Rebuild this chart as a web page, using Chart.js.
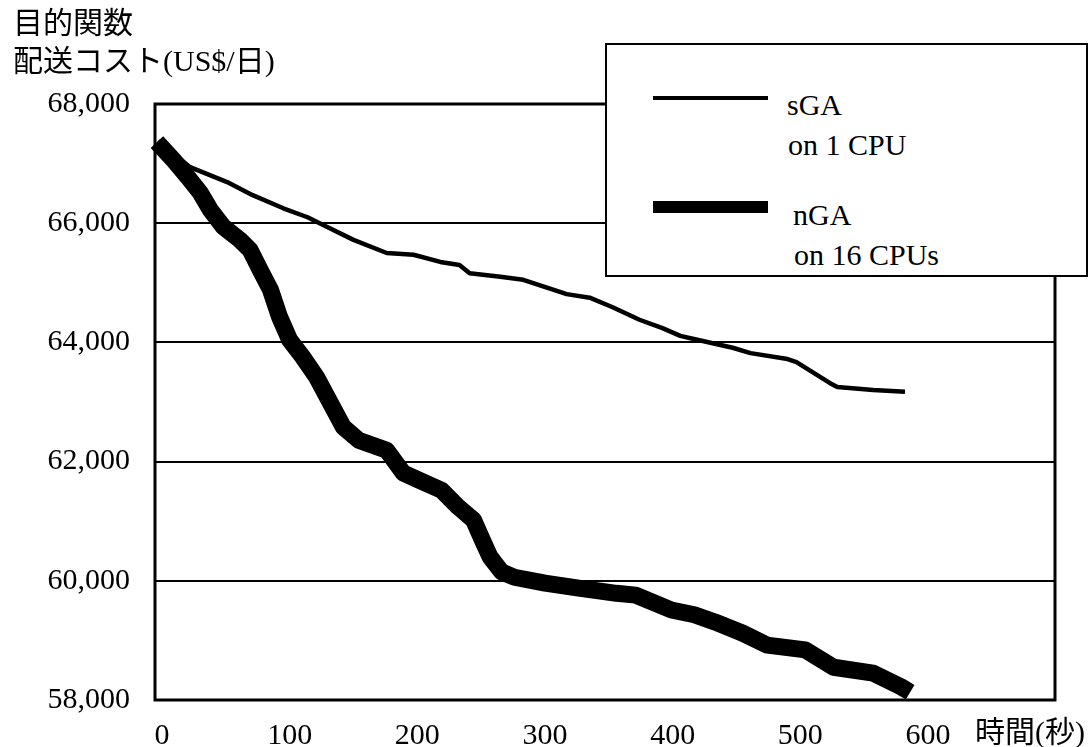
<!DOCTYPE html>
<html>
<head>
<meta charset="utf-8">
<script src="https://cdn.jsdelivr.net/npm/chart.js@4/dist/chart.umd.min.js"></script>
<style>
  html, body { margin:0; padding:0; background:#fff; }
  #wrap { position:relative; width:1090px; height:747px; background:#fff; overflow:hidden; }
  #c { position:absolute; left:0; top:0; }
  .txt { position:absolute; white-space:nowrap; color:#000;
         font-family:"Liberation Serif","Noto Sans CJK JP",serif; font-size:30px; line-height:30px; }
  #legend { position:absolute; left:605px; top:43px; width:483px; height:234px;
            box-sizing:border-box; border:2px solid #000; background:#fff; }
  .swatch { position:absolute; background:#000; }
</style>
</head>
<body>
<div id="wrap">
  <canvas id="c" width="1090" height="747"></canvas>
  <div class="txt" id="yTitle1" style="left:13px;top:8px;">目的関数</div>
  <div class="txt" id="yTitle2" style="left:13px;top:46px;">配送コスト(US$/日)</div>
  <div class="txt" id="xTitle" style="left:975px;top:717px;">時間(秒)</div>
  <div id="legend"></div>
</div>
<script>
// ---- data ----
const sgaTime = [-3, 22, 51, 71, 95, 114, 129, 150, 176, 197, 218, 233, 241, 265, 283, 317, 335, 353, 374, 392, 406, 414, 447, 461, 490, 497, 523, 529, 557, 582];
const sgaCost = [67380, 66940, 66690, 66470, 66250, 66100, 65940, 65720, 65500, 65470, 65350, 65300, 65160, 65100, 65050, 64810, 64750, 64590, 64380, 64240, 64110, 64070, 63910, 63820, 63720, 63670, 63320, 63250, 63200, 63170];

const ngaTime = [-4, 9, 20, 30, 38, 48, 61, 69, 77, 85, 92, 100, 110, 121, 142, 154, 176, 189, 201, 219, 232, 244, 251, 257, 266, 276, 300, 325, 356, 371, 399, 417, 433, 455, 474, 504, 526, 557, 579, 586];
const ngaCost = [67360, 67060, 66780, 66510, 66220, 65940, 65720, 65550, 65210, 64880, 64430, 64040, 63760, 63420, 62580, 62360, 62190, 61810, 61690, 61520, 61240, 61020, 60680, 60400, 60150, 60060, 59960, 59880, 59790, 59760, 59510, 59430, 59310, 59120, 58920, 58840, 58550, 58450, 58220, 58130];

const xTickValues = [0, 100, 200, 300, 400, 500, 600];
const yTickValues = [58000, 60000, 62000, 64000, 66000, 68000];
const seriesNames = ['sGA', 'nGA'];
const seriesSubNames = ['on 1 CPU', 'on 16 CPUs'];

// ---- chart ----
const toPoints = (xs, ys) => xs.map((x, i) => ({ x: x, y: ys[i] }));

const framePlugin = {
  id: 'frame',
  beforeDatasetsDraw(chart) {
    const a = chart.chartArea, ctx = chart.ctx;
    ctx.save();
    ctx.strokeStyle = '#000';
    ctx.lineWidth = 3;
    ctx.strokeRect(a.left, a.top, a.right - a.left, a.bottom - a.top);
    ctx.restore();
  }
};

const tickFont = { family: 'Liberation Serif', size: 30 };

const chart = new Chart(document.getElementById('c'), {
  type: 'line',
  data: {
    datasets: [
      { label: seriesNames[0] + ' ' + seriesSubNames[0], data: toPoints(sgaTime, sgaCost),
        borderColor: '#000', borderWidth: 4.5, pointRadius: 0, tension: 0, clip: false,
        borderJoinStyle: 'round', fill: false },
      { label: seriesNames[1] + ' ' + seriesSubNames[1], data: toPoints(ngaTime, ngaCost),
        borderColor: '#000', borderWidth: 17, pointRadius: 0, tension: 0, clip: false,
        borderJoinStyle: 'round', fill: false }
    ]
  },
  options: {
    responsive: false,
    animation: false,
    layout: { padding: { top: 104, right: 35, left: 0, bottom: 0 } },
    plugins: { legend: { display: false }, tooltip: { enabled: false } },
    scales: {
      x: {
        type: 'linear', min: -5.5, max: 699.5,
        afterBuildTicks: (axis) => { axis.ticks = xTickValues.map(v => ({ value: v })); },
        afterFit: (axis) => { axis.height = 47; },
        grid: { display: false, drawTicks: false },
        border: { display: false },
        ticks: { color: '#000', font: tickFont, padding: 18, maxRotation: 0, autoSkip: false,
                 callback: (v) => String(v) }
      },
      y: {
        min: 58000, max: 68000,
        afterBuildTicks: (axis) => { axis.ticks = yTickValues.map(v => ({ value: v })); },
        afterFit: (axis) => { axis.width = 155; },
        grid: { color: '#000', lineWidth: 2, drawTicks: false },
        border: { display: false },
        ticks: { color: '#000', font: tickFont, padding: 25,
                 callback: (v) => Number(v).toLocaleString('en-US') }
      }
    }
  },
  plugins: [framePlugin]
});

// ---- legend (HTML, over the plot like the reference) ----
const legend = document.getElementById('legend');
const lg = [
  { name: seriesNames[0], sub: seriesSubNames[0], lineTop: 51, lineH: 4, textLeft: 180, textTop: 45 },
  { name: seriesNames[1], sub: seriesSubNames[1], lineTop: 156, lineH: 12, textLeft: 186, textTop: 155 }
];
lg.forEach((e, i) => {
  const sw = document.createElement('div');
  sw.className = 'swatch';
  sw.style.left = '46px'; sw.style.width = '115px';
  sw.style.top = e.lineTop + 'px'; sw.style.height = e.lineH + 'px';
  legend.appendChild(sw);
  const t1 = document.createElement('div');
  t1.className = 'txt'; t1.textContent = e.name;
  t1.style.left = e.textLeft + 'px'; t1.style.top = e.textTop + 'px';
  legend.appendChild(t1);
  const t2 = document.createElement('div');
  t2.className = 'txt'; t2.textContent = e.sub;
  t2.style.left = (e.textLeft + 1) + 'px'; t2.style.top = (e.textTop + 40) + 'px';
  legend.appendChild(t2);
});
</script>
</body>
</html>
